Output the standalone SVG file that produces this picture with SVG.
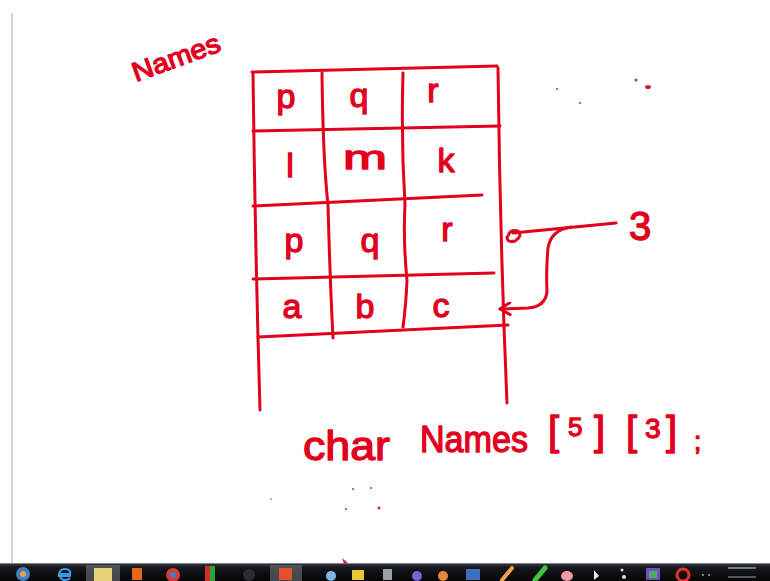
<svg xmlns="http://www.w3.org/2000/svg" width="770" height="581" viewBox="0 0 770 581">
  <defs>
    <style>
      .ink { fill: none; stroke: #e2001c; stroke-width: 3; stroke-linecap: round; stroke-linejoin: round; }
      .txt { fill: #e2001c; stroke: #e2001c; stroke-width: 1.3; stroke-linejoin: round; font-family: "Liberation Sans", "DejaVu Sans", sans-serif; }
      .cell { font-size: 34px; text-anchor: middle; }
      .dot { fill: #d8203a; }
      .ico { stroke: none; }
    </style>
    <linearGradient id="bar" x1="0" y1="0" x2="0" y2="1">
      <stop offset="0" stop-color="#3a3f46"/>
      <stop offset="0.25" stop-color="#16181b"/>
      <stop offset="1" stop-color="#050505"/>
    </linearGradient>
    <marker id="head" viewBox="0 0 14 14" refX="12" refY="7" markerWidth="14" markerHeight="14" markerUnits="userSpaceOnUse" orient="auto">
      <path d="M2 1 L12 7 L2 13" fill="none" stroke="#e2001c" stroke-width="3" stroke-linecap="round" stroke-linejoin="round"/>
    </marker>
  </defs>

  <!-- page -->
  <rect x="0" y="0" width="770" height="581" fill="#ffffff"/>
  <line x1="12" y1="13" x2="12" y2="563" stroke="#b9c8da" stroke-width="1.5"/>

  <!-- array label -->
  <g id="label-names">
    <text class="txt" x="0" y="0" font-size="27" textLength="92" lengthAdjust="spacingAndGlyphs" transform="translate(136 82) rotate(-20)">Names</text>
  </g>

  <!-- 5 x 3 grid of the array -->
  <g id="grid">
    <path class="ink" d="M252 72 L497 66"/>
    <path class="ink" d="M253 73 Q255 240 260 410"/>
    <path class="ink" d="M498 68 Q500 240 507 403"/>
    <path class="ink" d="M253 131 L500 126"/>
    <path class="ink" d="M253 206 L482 195"/>
    <path class="ink" d="M253 279 L494 273"/>
    <path class="ink" d="M258 337 L508 325"/>
    <path class="ink" d="M322 73 Q323 160 328 205 Q330 280 333 338"/>
    <path class="ink" d="M403 73 Q401 140 405 205 Q403 240 407 280 Q406 305 403 327"/>
  </g>

  <!-- row 0 -->
  <g id="row0">
    <text class="txt cell" x="286" y="108">p</text>
    <text class="txt cell" x="359" y="107">q</text>
    <text class="txt cell" x="433" y="102">r</text>
  </g>
  <!-- row 1 -->
  <g id="row1">
    <text class="txt cell" x="290" y="177">l</text>
    <text class="txt cell" x="365" y="169" textLength="44" lengthAdjust="spacingAndGlyphs">m</text>
    <text class="txt cell" x="446" y="172">k</text>
  </g>
  <!-- row 2 -->
  <g id="row2">
    <text class="txt cell" x="294" y="252">p</text>
    <text class="txt cell" x="370" y="252">q</text>
    <text class="txt cell" x="447" y="241">r</text>
  </g>
  <!-- row 3 -->
  <g id="row3">
    <text class="txt cell" x="292" y="318">a</text>
    <text class="txt cell" x="365" y="318">b</text>
    <text class="txt cell" x="441" y="317">c</text>
  </g>

  <!-- index label -->
  <g id="index-3">
    <text class="txt" x="640" y="240" font-size="40" text-anchor="middle">3</text>
  </g>

  <!-- connectors -->
  <g id="connectors">
    <path class="ink" d="M513 233 L616 223"/>
    <path class="ink" d="M508 236 Q510 229 518 231 Q523 236 515 241 Q507 243 507 237 Z"/>
    <path class="ink" d="M571 227 Q551 230 548 248 Q546 270 547 292 Q545 307 528 308 L500 309" marker-end="url(#head)"/>
  </g>

  <!-- declaration -->
  <g id="declaration">
    <text class="txt" x="303" y="460" font-size="40" textLength="87" lengthAdjust="spacingAndGlyphs">char</text>
    <text class="txt" x="420" y="452" font-size="37" textLength="108" lengthAdjust="spacingAndGlyphs">Names</text>
    <text class="txt" x="548" y="445" font-size="40">[</text>
    <text class="txt" x="568" y="436" font-size="26">5</text>
    <text class="txt" x="594" y="445" font-size="40">]</text>
    <text class="txt" x="626" y="445" font-size="40">[</text>
    <text class="txt" x="645" y="438" font-size="28">3</text>
    <text class="txt" x="666" y="445" font-size="40">]</text>
    <text class="txt" x="694" y="450" font-size="26">;</text>
  </g>

  <!-- stray ink specks -->
  <g id="specks">
    <circle class="dot" cx="636" cy="80" r="1.5"/>
    <ellipse class="dot" cx="648" cy="87" rx="3" ry="2"/>
    <circle class="dot" cx="557" cy="89" r="1"/>
    <circle class="dot" cx="580" cy="103" r="1"/>
    <circle class="dot" cx="353" cy="489" r="1"/>
    <circle class="dot" cx="371" cy="488" r="1"/>
    <circle class="dot" cx="346" cy="509" r="1"/>
    <circle class="dot" cx="379" cy="508" r="1.5"/>
    <circle class="dot" cx="271" cy="499" r="0.8"/>
  </g>

  <!-- taskbar -->
  <g id="taskbar">
    <rect x="0" y="563" width="770" height="18" fill="url(#bar)"/>
    <line x1="0" y1="563.5" x2="770" y2="563.5" stroke="#7d8590" stroke-width="1"/>
    <rect x="86" y="565" width="34" height="16" fill="#6e747c" opacity="0.6"/>
    <rect x="270" y="565" width="32" height="16" fill="#6e747c" opacity="0.6"/>
    <circle class="ico" cx="23" cy="574" r="7" fill="#3f7fc7"/>
    <circle class="ico" cx="23" cy="574" r="3" fill="#e9a23a"/>
    <path d="M71 576 L59 576 Q59 569 65 569 Q71 569 70 574 L60 574 M60 576 Q61 580 65 580 Q68 580 70 578" fill="none" stroke="#3c9be0" stroke-width="2.2"/>
    <rect class="ico" x="94" y="568" width="18" height="13" fill="#e8d27a"/>
    <rect class="ico" x="132" y="568" width="10" height="12" fill="#e06a1a"/>
    <circle class="ico" cx="173" cy="575" r="7" fill="#d9392c"/>
    <circle class="ico" cx="173" cy="575" r="3" fill="#3a7fe0"/>
    <rect class="ico" x="205" y="566" width="5" height="15" fill="#d12b2b"/>
    <rect class="ico" x="210" y="566" width="5" height="15" fill="#2aa43b"/>
    <circle class="ico" cx="249" cy="575" r="6" fill="#2a2c30"/>
    <rect class="ico" x="279" y="568" width="13" height="12" fill="#e4502a"/>
    <circle class="ico" cx="331" cy="576" r="5" fill="#7fb6e6"/>
    <rect class="ico" x="352" y="570" width="12" height="10" fill="#e8c830"/>
    <rect class="ico" x="383" y="569" width="9" height="11" fill="#9aa1aa"/>
    <circle class="ico" cx="417" cy="576" r="5" fill="#7a62d0"/>
    <circle class="ico" cx="443" cy="576" r="5" fill="#e38a3a"/>
    <rect class="ico" x="466" y="569" width="14" height="11" fill="#3d6fbd"/>
    <path d="M502 580 L512 568" stroke="#f0a04a" stroke-width="4" stroke-linecap="round"/>
    <path d="M535 580 L545 568" stroke="#41c73e" stroke-width="5" stroke-linecap="round"/>
    <ellipse class="ico" cx="567" cy="576" rx="6" ry="5" fill="#f29aa8"/>
    <path d="M594 570 L594 580 L599 576 Z" fill="#e6e6e6"/>
    <circle class="ico" cx="622" cy="570" r="1.5" fill="#e0e0e0"/>
    <circle class="ico" cx="624" cy="577" r="2" fill="#e0e0e0"/>
    <rect class="ico" x="646" y="568" width="14" height="12" fill="#7a49c9"/>
    <rect class="ico" x="649" y="571" width="8" height="7" fill="#44b35a"/>
    <circle cx="683" cy="575" r="6" fill="none" stroke="#e53030" stroke-width="3"/>
    <circle class="ico" cx="703" cy="575" r="1" fill="#9aa0a8"/>
    <circle class="ico" cx="709" cy="575" r="1" fill="#9aa0a8"/>
    <rect class="ico" x="728" y="567" width="28" height="2" fill="#9ea4ac" opacity="0.7"/>
    <rect class="ico" x="728" y="576" width="28" height="2" fill="#9ea4ac" opacity="0.5"/>
    <path d="M342 558 L348 563 L344 564 Z" fill="#d0243a"/>
  </g>
</svg>
